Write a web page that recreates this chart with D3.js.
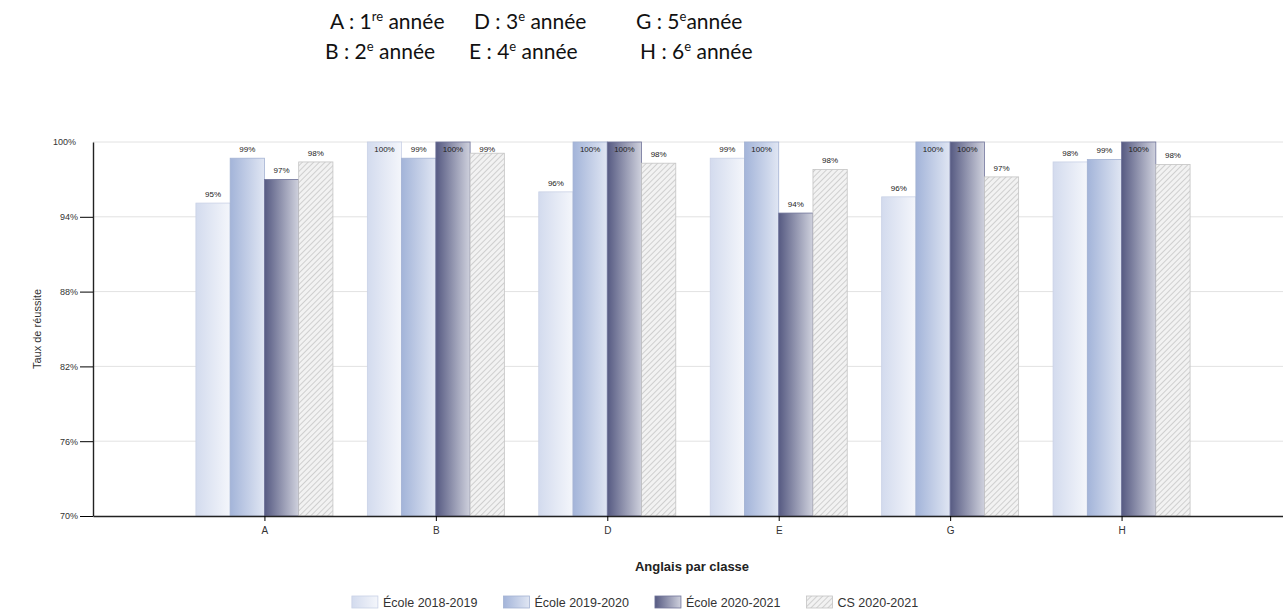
<!DOCTYPE html>
<html>
<head>
<meta charset="utf-8">
<script src="https://cdn.jsdelivr.net/npm/d3@7"></script>
<style>
  body { margin: 0; background: #fff; }
  svg { display: block; }
</style>
</head>
<body>
<div id="chart"></div>
<script>
// data
const categories = ["A", "B", "D", "E", "G", "H"]
const seriesNames = ["École 2018-2019", "École 2019-2020", "École 2020-2021", "CS 2020-2021"]
const ecole2018 = [95.1, 100, 96.0, 98.7, 95.6, 98.4]
const ecole2019 = [98.7, 98.7, 100, 100, 100, 98.6]
const ecole2020 = [97.0, 100, 100, 94.3, 100, 100]
const cs2020 = [98.4, 99.1, 98.3, 97.8, 97.2, 98.2]
const yTicks = [70, 76, 82, 88, 94, 100]
// header: [letter, number, superscript, rest]
const headerLine1 = [["A", "1", "re", " année"], ["D", "3", "e", " année"], ["G", "5", "e", "année"]]
const headerLine2 = [["B", "2", "e", " année"], ["E", "4", "e", " année"], ["H", "6", "e", " année"]]

const width = 1283, height = 611
const seriesValues = [ecole2018, ecole2019, ecole2020, cs2020]

let svg = d3.select("#chart").append("svg")
    .attr("width", width)
    .attr("height", height)
    .style("font-family", "'Liberation Sans', Arial, sans-serif")

// scales
let x = d3.scalePoint().domain(categories).range([93, 1293]).padding(1)
let xInner = d3.scaleBand().domain(seriesNames).range([-68.5, 68.5])
let y = d3.scaleLinear().domain([70, 100]).range([516, 142])

// gradients + hatch
let defs = svg.append("defs")
const gradStops = [["#d3dbee", "#f4f6fb"], ["#a3b4d9", "#e0e6f3"], ["#565a82", "#cfd1dd"]]
gradStops.forEach((s, i) => {
    let g = defs.append("linearGradient").attr("id", "grad" + i)
        .attr("x1", "0%").attr("x2", "100%").attr("y1", "0%").attr("y2", "0%")
    g.append("stop").attr("offset", "0%").attr("stop-color", s[0])
    g.append("stop").attr("offset", "100%").attr("stop-color", s[1])
})
let hatch = defs.append("pattern").attr("id", "hatch")
    .attr("patternUnits", "userSpaceOnUse").attr("width", 4).attr("height", 4)
    .attr("patternTransform", "rotate(45)")
hatch.append("rect").attr("width", 4).attr("height", 4).attr("fill", "#f2f2f2")
hatch.append("line").attr("x1", 0).attr("y1", 0).attr("x2", 0).attr("y2", 4)
    .attr("stroke", "#bcbcbc").attr("stroke-width", 1.3)
const fills = ["url(#grad0)", "url(#grad1)", "url(#grad2)", "url(#hatch)"]
const strokes = ["#c9d1e6", "#a3b2d3", "#70749a", "#c4c4c4"]

// header text
function drawHeader(line, xs, yPos) {
    line.forEach((item, i) => {
        let t = svg.append("text")
            .attr("x", xs[i]).attr("y", yPos)
            .style("font-family", "Lato, 'Open Sans', sans-serif")
            .style("font-size", "21px")
            .attr("fill", "#111")
        t.append("tspan").text(item[0] + " : " + item[1])
        t.append("tspan").attr("dy", -8).style("font-size", "13px").text(item[2])
        t.append("tspan").attr("dy", 8).text(item[3])
    })
}
drawHeader(headerLine1, [330, 474, 636], 29)
drawHeader(headerLine2, [325, 469, 640], 59)

// grid lines
svg.append("g").selectAll("line")
    .data(yTicks.filter(d => d > 70))
    .join("line")
    .attr("x1", 93).attr("x2", width)
    .attr("y1", d => y(d)).attr("y2", d => y(d))
    .attr("stroke", "#e2e2e2")

// bars
seriesValues.forEach((vals, si) => {
    svg.append("g").selectAll("rect")
        .data(vals)
        .join("rect")
        .attr("x", (d, i) => x(categories[i]) + xInner(seriesNames[si]))
        .attr("y", d => y(d))
        .attr("width", xInner.bandwidth())
        .attr("height", d => y(70) - y(d))
        .attr("fill", fills[si])
        .attr("stroke", strokes[si])
        .attr("stroke-width", 0.8)
    svg.append("g").selectAll("text")
        .data(vals)
        .join("text")
        .attr("x", (d, i) => x(categories[i]) + xInner(seriesNames[si]) + xInner.bandwidth() / 2)
        .attr("y", d => Math.max(y(d) - 6, y(100) + 10))
        .attr("text-anchor", "middle")
        .style("font-size", "8px")
        .attr("fill", "#222")
        .text(d => Math.round(d) + "%")
})

// axes
let yAxis = svg.append("g")
    .attr("transform", "translate(93,0)")
    .call(d3.axisLeft(y).tickValues(yTicks).tickSize(13).tickSizeOuter(0).tickFormat(d => d + "%"))
yAxis.selectAll(".tick").filter(d => d === 100).select("line").remove()
yAxis.selectAll("text").style("font-size", "9px").attr("fill", "#333").attr("x", -15)
yAxis.selectAll(".tick").filter(d => d === 100).select("text").attr("x", -17)
yAxis.select(".domain").attr("stroke", "#222").attr("stroke-width", 1.4)

let xAxis = svg.append("g")
    .attr("transform", "translate(0,516)")
    .call(d3.axisBottom(x).tickSize(5).tickSizeOuter(0))
xAxis.selectAll("text").style("font-size", "10px").attr("fill", "#333").attr("dy", "1em")
xAxis.select(".domain").attr("stroke", "#222").attr("stroke-width", 1.4)

// axis titles
svg.append("text")
    .attr("x", 692).attr("y", 571)
    .attr("text-anchor", "middle")
    .style("font-size", "13px").style("font-weight", "bold")
    .attr("fill", "#222")
    .text("Anglais par classe")
svg.append("text")
    .attr("transform", "translate(41,329) rotate(-90)")
    .attr("text-anchor", "middle")
    .style("font-size", "11px")
    .attr("fill", "#333")
    .text("Taux de réussite")

// legend
let legend = svg.append("g")
let lx = 0
seriesNames.forEach((name, i) => {
    let item = legend.append("g").attr("transform", `translate(${lx},0)`)
    item.append("rect").attr("x", 0).attr("y", -10).attr("width", 26).attr("height", 12)
        .attr("fill", fills[i]).attr("stroke", strokes[i]).attr("stroke-width", 0.8)
    let t = item.append("text").attr("x", 31).attr("y", 1)
        .style("font-size", "12.5px").attr("fill", "#333").text(name)
    lx += 31 + t.node().getComputedTextLength() + 26
})
legend.attr("transform", `translate(${635 - (lx - 26) / 2},606)`)
</script>
</body>
</html>
